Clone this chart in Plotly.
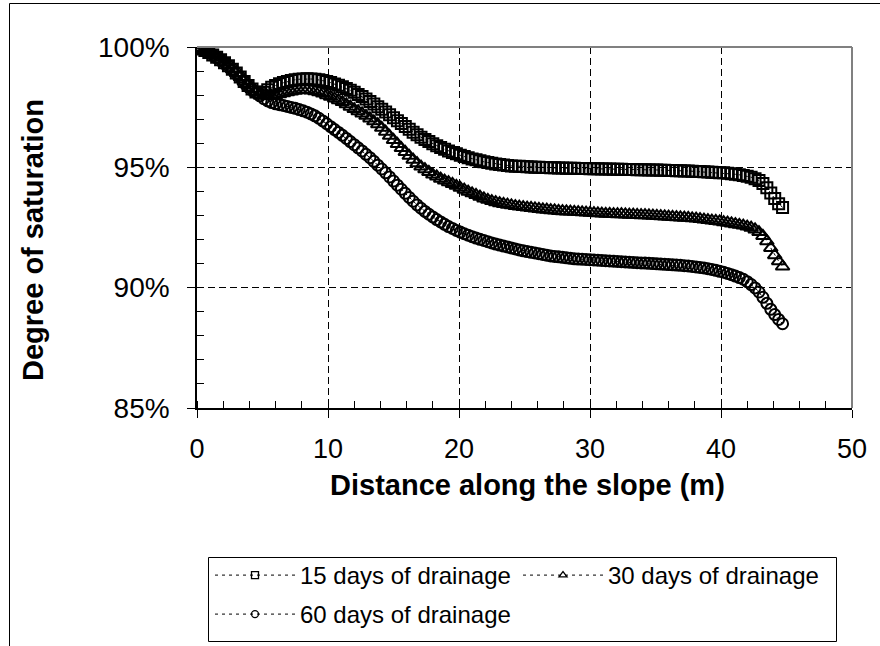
import plotly.graph_objects as go

# Distance along the slope (m): sampling grid of the plotted points (0.3 m spacing)
distance = [round(i * 0.3, 1) for i in range(150)]

# Degree of saturation (%), 10 values per 3 m
sat_15_days = [
    99.98, 99.92, 99.85, 99.77, 99.67, 99.57, 99.47, 99.35, 99.22, 99.08,
    98.92, 98.75, 98.57, 98.40, 98.25, 98.13, 98.08, 98.12, 98.22, 98.33,
    98.40, 98.47, 98.52, 98.57, 98.61, 98.64, 98.66, 98.67, 98.68, 98.67,
    98.66, 98.64, 98.61, 98.57, 98.52, 98.46, 98.41, 98.35, 98.28, 98.20,
    98.12, 98.03, 97.94, 97.84, 97.74, 97.63, 97.52, 97.41, 97.30, 97.18,
    97.06, 96.94, 96.82, 96.70, 96.58, 96.46, 96.35, 96.25, 96.16, 96.07,
    95.98, 95.90, 95.82, 95.75, 95.68, 95.62, 95.56, 95.50, 95.45, 95.40,
    95.35, 95.31, 95.27, 95.23, 95.20, 95.17, 95.14, 95.12, 95.10, 95.08,
    95.06, 95.05, 95.04, 95.03, 95.02, 95.01, 95.00, 95.00, 94.99, 94.99,
    94.98, 94.98, 94.97, 94.97, 94.96, 94.96, 94.96, 94.95, 94.95, 94.95,
    94.94, 94.94, 94.94, 94.93, 94.93, 94.93, 94.92, 94.92, 94.92, 94.91,
    94.91, 94.91, 94.90, 94.90, 94.90, 94.89, 94.89, 94.89, 94.88, 94.88,
    94.87, 94.87, 94.86, 94.86, 94.85, 94.85, 94.84, 94.83, 94.83, 94.82,
    94.81, 94.80, 94.79, 94.78, 94.77, 94.75, 94.73, 94.71, 94.69, 94.66,
    94.63, 94.59, 94.53, 94.45, 94.33, 94.15, 93.93, 93.70, 93.49, 93.33,
]

sat_30_days = [
    99.98, 99.92, 99.85, 99.77, 99.67, 99.57, 99.47, 99.35, 99.22, 99.08,
    98.92, 98.75, 98.57, 98.40, 98.25, 98.11, 98.03, 97.98, 97.96, 97.97,
    98.00, 98.04, 98.08, 98.12, 98.15, 98.18, 98.20, 98.21, 98.21, 98.19,
    98.16, 98.12, 98.07, 98.00, 97.93, 97.86, 97.79, 97.71, 97.62, 97.52,
    97.42, 97.33, 97.24, 97.14, 97.03, 96.91, 96.79, 96.64, 96.48, 96.31,
    96.14, 95.97, 95.80, 95.64, 95.48, 95.32, 95.17, 95.03, 94.92, 94.81,
    94.70, 94.62, 94.53, 94.45, 94.38, 94.31, 94.23, 94.15, 94.07, 93.99,
    93.92, 93.85, 93.78, 93.71, 93.65, 93.60, 93.55, 93.51, 93.48, 93.45,
    93.42, 93.39, 93.37, 93.35, 93.33, 93.31, 93.29, 93.27, 93.25, 93.24,
    93.22, 93.21, 93.19, 93.18, 93.17, 93.16, 93.15, 93.14, 93.13, 93.12,
    93.11, 93.10, 93.09, 93.08, 93.07, 93.07, 93.06, 93.05, 93.05, 93.04,
    93.03, 93.03, 93.02, 93.01, 93.01, 93.00, 92.99, 92.98, 92.97, 92.96,
    92.95, 92.94, 92.93, 92.92, 92.91, 92.90, 92.88, 92.87, 92.85, 92.83,
    92.81, 92.79, 92.77, 92.75, 92.72, 92.70, 92.67, 92.64, 92.61, 92.58,
    92.54, 92.49, 92.42, 92.31, 92.15, 91.93, 91.65, 91.35, 91.10, 90.88,
]

sat_60_days = [
    99.98, 99.92, 99.85, 99.77, 99.67, 99.57, 99.47, 99.35, 99.22, 99.08,
    98.92, 98.75, 98.57, 98.40, 98.25, 98.10, 97.97, 97.85, 97.76, 97.69,
    97.64, 97.60, 97.57, 97.53, 97.49, 97.45, 97.40, 97.35, 97.29, 97.22,
    97.14, 97.04, 96.93, 96.81, 96.69, 96.57, 96.45, 96.33, 96.20, 96.07,
    95.94, 95.81, 95.68, 95.54, 95.40, 95.25, 95.09, 94.93, 94.77, 94.60,
    94.43, 94.26, 94.09, 93.92, 93.75, 93.59, 93.44, 93.30, 93.17, 93.05,
    92.94, 92.83, 92.73, 92.63, 92.54, 92.46, 92.38, 92.31, 92.24, 92.18,
    92.12, 92.06, 92.01, 91.96, 91.91, 91.86, 91.81, 91.77, 91.73, 91.69,
    91.65, 91.61, 91.57, 91.53, 91.50, 91.47, 91.44, 91.41, 91.38, 91.35,
    91.32, 91.30, 91.28, 91.26, 91.24, 91.22, 91.20, 91.19, 91.18, 91.17,
    91.16, 91.15, 91.14, 91.13, 91.12, 91.11, 91.10, 91.09, 91.08, 91.07,
    91.06, 91.05, 91.04, 91.03, 91.02, 91.01, 91.00, 90.99, 90.98, 90.97,
    90.96, 90.95, 90.94, 90.93, 90.91, 90.90, 90.88, 90.86, 90.84, 90.82,
    90.79, 90.76, 90.72, 90.68, 90.64, 90.59, 90.54, 90.48, 90.42, 90.35,
    90.25, 90.13, 89.99, 89.82, 89.60, 89.35, 89.10, 88.88, 88.68, 88.50,
]

series_names = ["15 days of drainage", "30 days of drainage", "60 days of drainage"]
series_values = [sat_15_days, sat_30_days, sat_60_days]
symbols = ["square-open", "triangle-up-open", "circle-open"]
sizes = [11, 12, 11]
legend_ids = ["legend", "legend", "legend2"]

x_ticks = [0, 10, 20, 30, 40, 50]
y_ticks = [85, 90, 95, 100]

FONT = "Arial, Liberation Sans, sans-serif"

fig = go.Figure()
for name, vals, sym, sz in zip(series_names, series_values, symbols, sizes):
    fig.add_trace(go.Scatter(
        x=distance, y=vals, mode="lines+markers", name=name, showlegend=False,
        line=dict(color="black", width=1, dash="3px,3px"),
        marker=dict(symbol=sym, size=sz, color="black", line=dict(width=2, color="black")),
    ))
# legend entries (small markers like the original legend)
for name, sym, lg in zip(series_names, symbols, legend_ids):
    fig.add_trace(go.Scatter(
        x=[None], y=[None], mode="lines+markers", name=name, legend=lg,
        line=dict(color="black", width=1, dash="3px,4px"),
        marker=dict(symbol=sym, size=7, color="black", line=dict(width=1.3, color="black")),
    ))

L, R, T, B = 197, 852, 47, 408
W, H = 880, 646
pw, ph = R - L, B - T

def px_x(p):
    return (p - L) / pw

def px_y(p):
    return (B - p) / ph

shapes = [
    # plot-area top and right border (grey)
    dict(type="line", xref="paper", yref="paper", x0=0, x1=1, y0=1, y1=1,
         line=dict(color="#808080", width=2)),
    dict(type="line", xref="paper", yref="paper", x0=1, x1=1, y0=0, y1=1,
         line=dict(color="#808080", width=2)),
    # outer chart frame (left and top)
    dict(type="line", xref="paper", yref="paper", x0=px_x(9.5), x1=px_x(9.5), y0=px_y(3.5), y1=px_y(W),
         line=dict(color="black", width=1)),
    dict(type="line", xref="paper", yref="paper", x0=px_x(9.5), x1=px_x(W + 5), y0=px_y(3.5), y1=px_y(3.5),
         line=dict(color="black", width=1)),
    # legend box
    dict(type="rect", xref="paper", yref="paper", x0=px_x(208.5), x1=px_x(836.5), y0=px_y(641.5), y1=px_y(557.5),
         line=dict(color="black", width=1), fillcolor="rgba(0,0,0,0)"),
]

legend_common = dict(
    orientation="h", xanchor="left", yanchor="top",
    font=dict(family=FONT, size=24, color="black"),
    bgcolor="rgba(0,0,0,0)", borderwidth=0,
    itemwidth=80, traceorder="normal",
)

fig.update_layout(
    width=W, height=H,
    margin=dict(l=L, r=W - R, t=T, b=H - B, pad=0, autoexpand=False),
    paper_bgcolor="white", plot_bgcolor="white",
    font=dict(family=FONT, color="black"),
    shapes=shapes,
    showlegend=True,
    legend=dict(x=px_x(210), y=px_y(553), entrywidth=213, entrywidthmode="pixels", **legend_common),
    legend2=dict(x=px_x(210), y=px_y(592), **legend_common),
    annotations=[
        dict(text="Degree of saturation", xref="paper", yref="paper",
             x=px_x(33), y=px_y(240), xanchor="center", yanchor="middle",
             textangle=-90, showarrow=False,
             font=dict(family=FONT, size=29, color="black", weight="bold")),
        dict(text="Distance along the slope (m)", xref="paper", yref="paper",
             x=px_x(527), y=px_y(485), xanchor="center", yanchor="middle",
             showarrow=False,
             font=dict(family=FONT, size=29, color="black", weight="bold")),
    ],
    xaxis=dict(
        range=[0, 50], tickvals=x_ticks, ticktext=[str(v) for v in x_ticks],
        showline=True, linecolor="black", linewidth=1.5, mirror=False,
        ticks="outside", ticklen=8, tickwidth=1, tickcolor="black",
        minor=dict(dtick=2, tick0=0, ticks="inside", ticklen=7, tickwidth=1, tickcolor="black", showgrid=False),
        showgrid=True, gridcolor="black", gridwidth=1, griddash="7px,4px",
        zeroline=False, ticklabelstandoff=8,
        tickfont=dict(family=FONT, size=27, color="black"),
    ),
    yaxis=dict(
        range=[85, 100], tickvals=y_ticks, ticktext=[f"{v}%" for v in y_ticks],
        showline=True, linecolor="black", linewidth=1.5, mirror=False,
        ticks="outside", ticklen=8, tickwidth=1, tickcolor="black",
        minor=dict(dtick=1, tick0=85, ticks="inside", ticklen=7, tickwidth=1, tickcolor="black", showgrid=False),
        showgrid=True, gridcolor="black", gridwidth=1, griddash="7px,4px",
        zeroline=False, ticklabelstandoff=12,
        tickfont=dict(family=FONT, size=28, color="black"),
    ),
)

fig.write_html("out.html", post_script="document.body.style.margin='0px';",
               config={"displayModeBar": False})
